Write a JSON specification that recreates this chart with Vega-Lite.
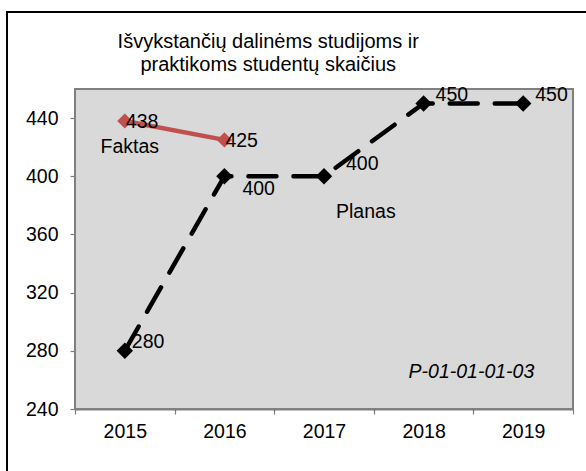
{
  "$schema": "https://vega.github.io/schema/vega-lite/v6.json",
  "autosize": "none",
  "padding": {"left": 7, "top": 12, "right": 0, "bottom": 0},
  "width": 620,
  "height": 480,
  "background": "white",
  "config": {
    "view": {"stroke": "black", "strokeWidth": 2, "fill": "white"},
    "axis": {
      "labelFont": "Liberation Sans",
      "labelFontSize": 19.5,
      "labelColor": "black",
      "domainColor": "black",
      "domainWidth": 1.5,
      "tickColor": "#7f7f7f",
      "tickWidth": 1.2,
      "tickSize": 5
    },
    "text": {"font": "Liberation Sans", "fontSize": 19.5, "color": "black"}
  },
  "datasets": {
    "main": [
      {"series": "Faktas", "year": 2015, "value": 438},
      {"series": "Faktas", "year": 2016, "value": 425},
      {"series": "Planas", "year": 2015, "value": 280},
      {"series": "Planas", "year": 2016, "value": 400},
      {"series": "Planas", "year": 2017, "value": 400},
      {"series": "Planas", "year": 2018, "value": 450},
      {"series": "Planas", "year": 2019, "value": 450}
    ]
  },
  "layer": [
    {
      "data": {"values": [{}]},
      "mark": {"type": "rect", "fill": "#d9d9d9", "stroke": "#808080", "strokeWidth": 2},
      "encoding": {
        "x": {
          "datum": 2014.5,
          "type": "quantitative",
          "scale": {"domain": [2014.5, 2019.5], "range": [68, 566], "nice": false, "zero": false},
          "axis": {
            "title": null,
            "orient": "bottom",
            "offset": -83,
            "grid": false,
            "values": [2014.5, 2015, 2015.5, 2016, 2016.5, 2017, 2017.5, 2018, 2018.5, 2019, 2019.5],
            "labelExpr": "datum.value % 1 == 0 ? datum.value + '' : ''",
            "labelPadding": 8,
            "tickOpacity": {"condition": {"test": "datum.value % 1 == 0", "value": 0}, "value": 1}
          }
        },
        "x2": {"datum": 2019.5},
        "y": {
          "datum": 240,
          "type": "quantitative",
          "scale": {"domain": [240, 460], "range": [397, 77], "nice": false, "zero": false},
          "axis": {
            "title": null,
            "orient": "left",
            "offset": -68,
            "values": [240, 280, 320, 360, 400, 440],
            "labelPadding": 12,
            "grid": true,
            "gridColor": "#8c8c8c",
            "gridDash": [2, 2],
            "gridWidth": 0.8
          }
        },
        "y2": {"datum": 460}
      }
    },
    {
      "data": {"name": "main"},
      "transform": [{"filter": "datum.series == 'Faktas'"}],
      "mark": {"type": "line", "color": "#c0504d", "strokeWidth": 4.5},
      "encoding": {
        "x": {"field": "year", "type": "quantitative"},
        "y": {"field": "value", "type": "quantitative"}
      }
    },
    {
      "data": {"name": "main"},
      "transform": [{"filter": "datum.series == 'Planas'"}],
      "mark": {"type": "line", "color": "black", "strokeWidth": 4.5, "strokeDash": [28, 17], "strokeCap": "round"},
      "encoding": {
        "x": {"field": "year", "type": "quantitative"},
        "y": {"field": "value", "type": "quantitative"}
      }
    },
    {
      "data": {"name": "main"},
      "transform": [{"filter": "datum.series == 'Faktas'"}],
      "mark": {"type": "point", "shape": "diamond", "filled": true, "color": "#c0504d", "opacity": 1, "size": 230},
      "encoding": {
        "x": {"field": "year", "type": "quantitative"},
        "y": {"field": "value", "type": "quantitative"}
      }
    },
    {
      "data": {"name": "main"},
      "transform": [{"filter": "datum.series == 'Planas'"}],
      "mark": {"type": "point", "shape": "diamond", "filled": true, "color": "black", "opacity": 1, "size": 270},
      "encoding": {
        "x": {"field": "year", "type": "quantitative"},
        "y": {"field": "value", "type": "quantitative"}
      }
    },
    {
      "data": {"name": "main"},
      "transform": [{"filter": "datum.series == 'Faktas'"}],
      "mark": {"type": "text", "align": "left", "baseline": "middle", "dx": 1, "dy": 1},
      "encoding": {
        "x": {"field": "year", "type": "quantitative"},
        "y": {"field": "value", "type": "quantitative"},
        "text": {"field": "value", "type": "quantitative"}
      }
    },
    {
      "data": {"name": "main"},
      "transform": [{"filter": "datum.series == 'Planas' && datum.year == 2015"}],
      "mark": {"type": "text", "align": "left", "baseline": "middle", "dx": 7, "dy": -9},
      "encoding": {
        "x": {"field": "year", "type": "quantitative"},
        "y": {"field": "value", "type": "quantitative"},
        "text": {"field": "value", "type": "quantitative"}
      }
    },
    {
      "data": {"name": "main"},
      "transform": [{"filter": "datum.series == 'Planas' && datum.year == 2016"}],
      "mark": {"type": "text", "align": "left", "baseline": "middle", "dx": 18, "dy": 13},
      "encoding": {
        "x": {"field": "year", "type": "quantitative"},
        "y": {"field": "value", "type": "quantitative"},
        "text": {"field": "value", "type": "quantitative"}
      }
    },
    {
      "data": {"name": "main"},
      "transform": [{"filter": "datum.series == 'Planas' && datum.year == 2017"}],
      "mark": {"type": "text", "align": "left", "baseline": "middle", "dx": 22, "dy": -12},
      "encoding": {
        "x": {"field": "year", "type": "quantitative"},
        "y": {"field": "value", "type": "quantitative"},
        "text": {"field": "value", "type": "quantitative"}
      }
    },
    {
      "data": {"name": "main"},
      "transform": [{"filter": "datum.series == 'Planas' && datum.year >= 2018"}],
      "mark": {"type": "text", "align": "left", "baseline": "middle", "dx": 12, "dy": -9},
      "encoding": {
        "x": {"field": "year", "type": "quantitative"},
        "y": {"field": "value", "type": "quantitative"},
        "text": {"field": "value", "type": "quantitative"}
      }
    },
    {
      "data": {"values": [{}]},
      "mark": {"type": "text", "text": "Faktas", "align": "center", "baseline": "middle"},
      "encoding": {
        "x": {"datum": 2015.05, "type": "quantitative"},
        "y": {"datum": 420, "type": "quantitative"}
      }
    },
    {
      "data": {"values": [{}]},
      "mark": {"type": "text", "text": "Planas", "align": "center", "baseline": "middle"},
      "encoding": {
        "x": {"datum": 2017.42, "type": "quantitative"},
        "y": {"datum": 375.3, "type": "quantitative"}
      }
    },
    {
      "data": {"values": [{}]},
      "mark": {"type": "text", "text": "P-01-01-01-03", "align": "center", "baseline": "middle", "fontStyle": "italic"},
      "encoding": {
        "x": {"datum": 2018.48, "type": "quantitative"},
        "y": {"datum": 265.7, "type": "quantitative"}
      }
    },
    {
      "data": {"values": [{}]},
      "mark": {
        "type": "text",
        "text": ["Išvykstančių dalinėms studijoms ir", "praktikoms studentų skaičius"],
        "align": "center",
        "baseline": "alphabetic",
        "lineHeight": 23,
        "fontSize": 20
      },
      "encoding": {
        "x": {"datum": 2016.44, "type": "quantitative"},
        "y": {"datum": 488.2, "type": "quantitative"}
      }
    }
  ]
}
